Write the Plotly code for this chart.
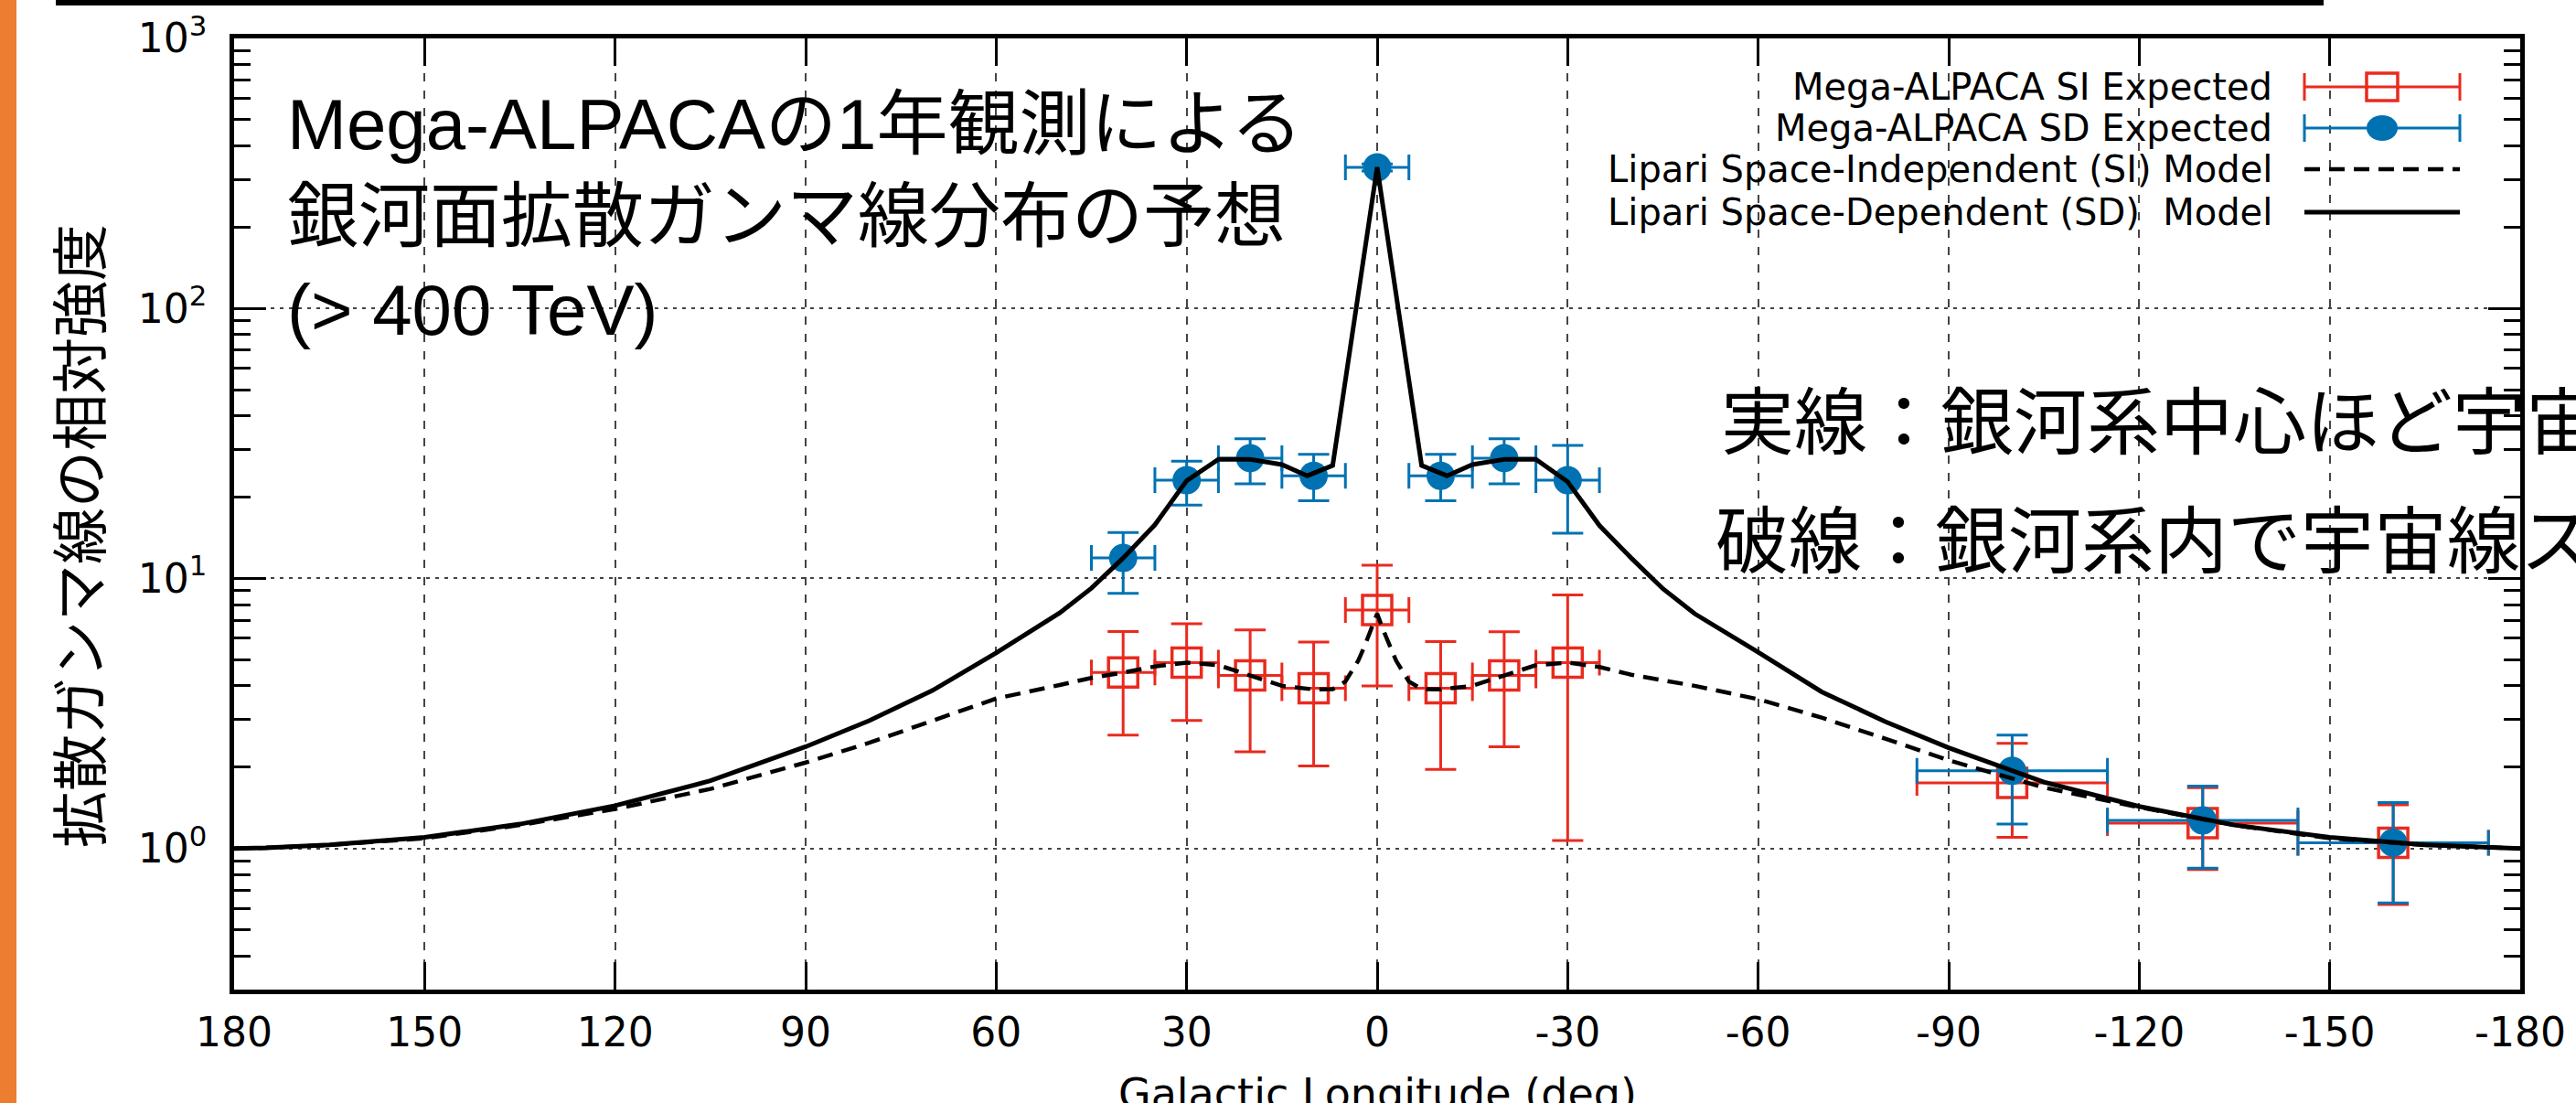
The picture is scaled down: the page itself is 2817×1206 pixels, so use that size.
import plotly.graph_objects as go
import math

# ---------------- data ----------------
lon = [40, 30, 20, 10, 0, -10, -20, -30, -100, -130, -160]
lon_halfwidth = [5, 5, 5, 5, 5, 5, 5, 5, 15, 15, 15]

si_val = [4.48, 4.88, 4.37, 3.92, 7.63, 3.92, 4.37, 4.88, 1.75, 1.24, 1.05]
si_hi = [6.36, 6.79, 6.45, 5.81, 11.2, 5.84, 6.34, 8.68, 2.45, 1.68, 1.45]
si_lo = [2.63, 2.98, 2.28, 2.02, 4.00, 1.96, 2.38, 1.07, 1.10, 0.835, 0.62]

sd_val = [11.9, 23.1, 27.9, 24.0, 333, 24.0, 27.9, 23.1, 1.94, 1.27, 1.05]
sd_hi = [14.8, 27.2, 32.9, 28.8, 343, 28.8, 32.9, 31.1, 2.63, 1.70, 1.48]
sd_lo = [8.8, 18.7, 22.4, 19.4, 323, 19.4, 22.4, 14.7, 1.23, 0.845, 0.628]

sd_model_lon = [180, 175, 165, 150, 135, 120, 105, 90, 80, 70, 60, 50, 45, 40, 35, 30,
                25, 20, 15, 11, 7, 0, -7, -11, -15, -20, -25, -30, -35, -40, -45, -50,
                -60, -70, -80, -90, -105, -120, -135, -150, -165, -175, -180]
sd_model = [1.00, 1.005, 1.03, 1.10, 1.23, 1.44, 1.78, 2.38, 2.97, 3.85, 5.30, 7.45, 9.2,
            11.9, 15.8, 23.0, 27.6, 27.6, 26.4, 24.0, 26.2, 333, 26.2, 24.0, 26.4, 27.6,
            27.6, 22.8, 15.7, 11.9, 9.16, 7.4, 5.33, 3.80, 2.95, 2.36, 1.76, 1.43, 1.22,
            1.10, 1.03, 1.005, 1.00]

si_model_lon = [180, 175, 165, 150, 135, 120, 105, 90, 80, 70, 60, 50, 45, 40, 35, 30,
                25, 20, 15, 10, 7, 5, 3, 2, 1, 0, -1, -2, -3, -5, -7, -10, -15, -20,
                -25, -30, -35, -40, -45, -50, -60, -70, -80, -90, -105, -120, -135,
                -150, -165, -175, -180]
si_model = [1.00, 1.005, 1.03, 1.09, 1.22, 1.40, 1.66, 2.08, 2.46, 2.98, 3.59, 4.03, 4.28,
            4.48, 4.72, 4.88, 4.77, 4.37, 4.00, 3.88, 3.89, 4.15, 4.95, 5.6, 6.4, 7.4,
            6.4, 5.6, 4.95, 4.15, 3.89, 3.88, 4.00, 4.37, 4.77, 4.88, 4.70, 4.40, 4.20,
            4.00, 3.57, 3.05, 2.55, 2.12, 1.68, 1.42, 1.22, 1.09, 1.03, 1.005, 1.00]

x_tickvals = [180, 150, 120, 90, 60, 30, 0, -30, -60, -90, -120, -150, -180]
x_ticktext = ["180", "150", "120", "90", "60", "30", "0", "-30", "-60", "-90", "-120", "-150", "-180"]
y_tickvals = [1, 10, 100, 1000]
y_ticktext = ["10<sup>0</sup>", "10<sup>1</sup>", "10<sup>2</sup>", "10<sup>3</sup>"]
y_minor = [0.3, 0.4, 0.5, 0.6, 0.7, 0.8, 0.9, 2, 3, 4, 5, 6, 7, 8, 9,
           20, 30, 40, 50, 60, 70, 80, 90, 200, 300, 400, 500, 600, 700, 800, 900]

legend_labels = ["Mega-ALPACA SI Expected", "Mega-ALPACA SD Expected",
                 "Lipari Space-Independent (SI) Model",
                 "Lipari Space-Dependent (SD) \u00a0Model"]
title_lines = ["Mega-ALPACAの1年観測による", "銀河面拡散ガンマ線分布の予想", "(> 400 TeV)"]
note_lines = ["実線：銀河系中心ほど宇宙", "破線：銀河系内で宇宙線ス"]
y_title = "拡散ガンマ線の相対強度"
x_title = "Galactic Longitude (deg)"

# ---------------- styling ----------------
W, H = 2817, 1206
PL, PR, PT, PB = 256, 2756, 42, 1082
RED = "#EA2A1E"
BLUE = "#0072B2"
ORANGE = "#ED7D31"
LAT = "DejaVu Sans"
JP = "Liberation Sans, Noto Sans CJK JP"


def px_x(px):
    return (px - PL) / (PR - PL)


def px_y(py):
    return (PB - py) / (PB - PT)


fig = go.Figure()

fig.add_trace(go.Scatter(
    x=lon, y=si_val, mode="markers", name=legend_labels[0], showlegend=False,
    marker=dict(symbol="square-open", size=32, color=RED, line=dict(width=3.5, color=RED)),
    error_y=dict(type="data", symmetric=False,
                 array=[h - v for h, v in zip(si_hi, si_val)],
                 arrayminus=[v - l for v, l in zip(si_val, si_lo)],
                 color=RED, thickness=3, width=17),
    error_x=dict(type="data", array=lon_halfwidth, color=RED, thickness=3, width=14),
))
fig.add_trace(go.Scatter(
    x=lon, y=sd_val, mode="markers", name=legend_labels[1], showlegend=False,
    marker=dict(symbol="circle", size=31, color=BLUE, line=dict(width=0)),
    error_y=dict(type="data", symmetric=False,
                 array=[h - v for h, v in zip(sd_hi, sd_val)],
                 arrayminus=[v - l for v, l in zip(sd_val, sd_lo)],
                 color=BLUE, thickness=3, width=17),
    error_x=dict(type="data", array=lon_halfwidth, color=BLUE, thickness=3, width=14),
))
fig.add_trace(go.Scatter(
    x=si_model_lon, y=si_model, mode="lines", name=legend_labels[2], showlegend=False,
    line=dict(color="black", width=4.5, dash="17px,10px"),
))
fig.add_trace(go.Scatter(
    x=sd_model_lon, y=sd_model, mode="lines", name=legend_labels[3], showlegend=False,
    line=dict(color="black", width=5),
))

shapes = []
annotations = []

# slide decorations
shapes.append(dict(type="rect", xref="paper", yref="paper", x0=px_x(0), x1=px_x(18),
                   y0=px_y(0), y1=px_y(H), fillcolor=ORANGE, line=dict(width=0), layer="above"))
shapes.append(dict(type="rect", xref="paper", yref="paper", x0=px_x(61), x1=px_x(2541),
                   y0=px_y(0), y1=px_y(6), fillcolor="black", line=dict(width=0), layer="above"))

# custom legend (text right, sample on the right)
rows = [95, 140, 185, 232]
sx0, sx1, sxc = 2520, 2690, 2605
for i, (lab, ry) in enumerate(zip(legend_labels, rows)):
    annotations.append(dict(text=lab, xref="paper", yref="paper", x=px_x(2487), y=px_y(ry),
                            xanchor="right", yanchor="middle", showarrow=False,
                            font=dict(family=LAT, size=40, color="black")))
    if i < 2:
        c = RED if i == 0 else BLUE
        shapes.append(dict(type="line", xref="paper", yref="paper", x0=px_x(sx0), x1=px_x(sx1),
                           y0=px_y(ry), y1=px_y(ry), line=dict(color=c, width=3)))
        for cx in (sx0, sx1):
            shapes.append(dict(type="line", xref="paper", yref="paper", x0=px_x(cx), x1=px_x(cx),
                               y0=px_y(ry - 15), y1=px_y(ry + 15), line=dict(color=c, width=3)))
        if i == 0:
            shapes.append(dict(type="rect", xref="paper", yref="paper", x0=px_x(sxc - 17),
                               x1=px_x(sxc + 17), y0=px_y(ry - 15), y1=px_y(ry + 15),
                               line=dict(color=RED, width=3.5)))
        else:
            shapes.append(dict(type="circle", xref="paper", yref="paper", x0=px_x(sxc - 17),
                               x1=px_x(sxc + 17), y0=px_y(ry - 14), y1=px_y(ry + 14),
                               fillcolor=BLUE, line=dict(width=0)))
    else:
        shapes.append(dict(type="line", xref="paper", yref="paper", x0=px_x(sx0), x1=px_x(sx1),
                           y0=px_y(ry), y1=px_y(ry),
                           line=dict(color="black", width=4.5 if i == 2 else 5,
                                     dash="17px,10px" if i == 2 else "solid")))

# title block (one multi-line text)
annotations.append(dict(text="<br>".join(title_lines), xref="paper", yref="paper",
                        x=px_x(312), y=px_y(237), xanchor="left", yanchor="middle",
                        align="left", showarrow=False,
                        font=dict(family=JP, size=78, color="black")))
# notes on the right
for txt, lx, cy in zip(note_lines, [1880, 1874], [462, 592]):
    annotations.append(dict(text=txt, xref="paper", yref="paper", x=px_x(lx), y=px_y(cy),
                            xanchor="left", yanchor="middle", showarrow=False,
                            font=dict(family=JP, size=80, color="black")))
# y-axis title
annotations.append(dict(text=y_title, xref="paper", yref="paper", x=px_x(84), y=px_y(586),
                        xanchor="center", yanchor="middle", showarrow=False, textangle=-90,
                        font=dict(family="Noto Sans CJK JP", size=62, color="black")))
# x-axis title (partly below the bottom edge, as in the reference slide)
annotations.append(dict(text=x_title, xref="paper", yref="paper", x=px_x(1506), y=px_y(1196),
                        xanchor="center", yanchor="middle", showarrow=False,
                        font=dict(family=LAT, size=46, color="black")))

fig.update_layout(
    width=W, height=H,
    margin=dict(l=PL, r=W - PR, t=PT, b=H - PB, pad=0, autoexpand=False),
    paper_bgcolor="white", plot_bgcolor="white",
    showlegend=False,
    shapes=shapes, annotations=annotations,
    xaxis=dict(
        range=[180, -180], tickmode="array", tickvals=x_tickvals, ticktext=x_ticktext,
        ticks="inside", ticklen=30, tickwidth=2.5, tickcolor="black",
        showline=True, linewidth=4.5, linecolor="black", mirror="allticks",
        showgrid=True, gridcolor="#444444", gridwidth=1.5, griddash="9px,10px",
        zeroline=False, tickfont=dict(family=LAT, size=44, color="black"),
        ticklabelstandoff=4, automargin=False,
    ),
    yaxis=dict(
        type="log", range=[math.log10(0.3), 3], tickmode="array",
        tickvals=y_tickvals, ticktext=y_ticktext,
        ticks="inside", ticklen=35, tickwidth=2.5, tickcolor="black",
        showline=True, linewidth=4.5, linecolor="black", mirror="allticks",
        showgrid=True, gridcolor="#444444", gridwidth=1.5, griddash="4px,6px",
        zeroline=False, tickfont=dict(family=LAT, size=44, color="black"),
        ticklabelstandoff=16, automargin=False,
        minor=dict(tickmode="array", tickvals=y_minor, ticks="inside", ticklen=18,
                   tickwidth=2.5, tickcolor="black", showgrid=False),
    ),
)

fig.write_html("out.html", config={"displayModeBar": False},
               post_script="document.body.style.margin='0';document.body.style.overflow='hidden';")
